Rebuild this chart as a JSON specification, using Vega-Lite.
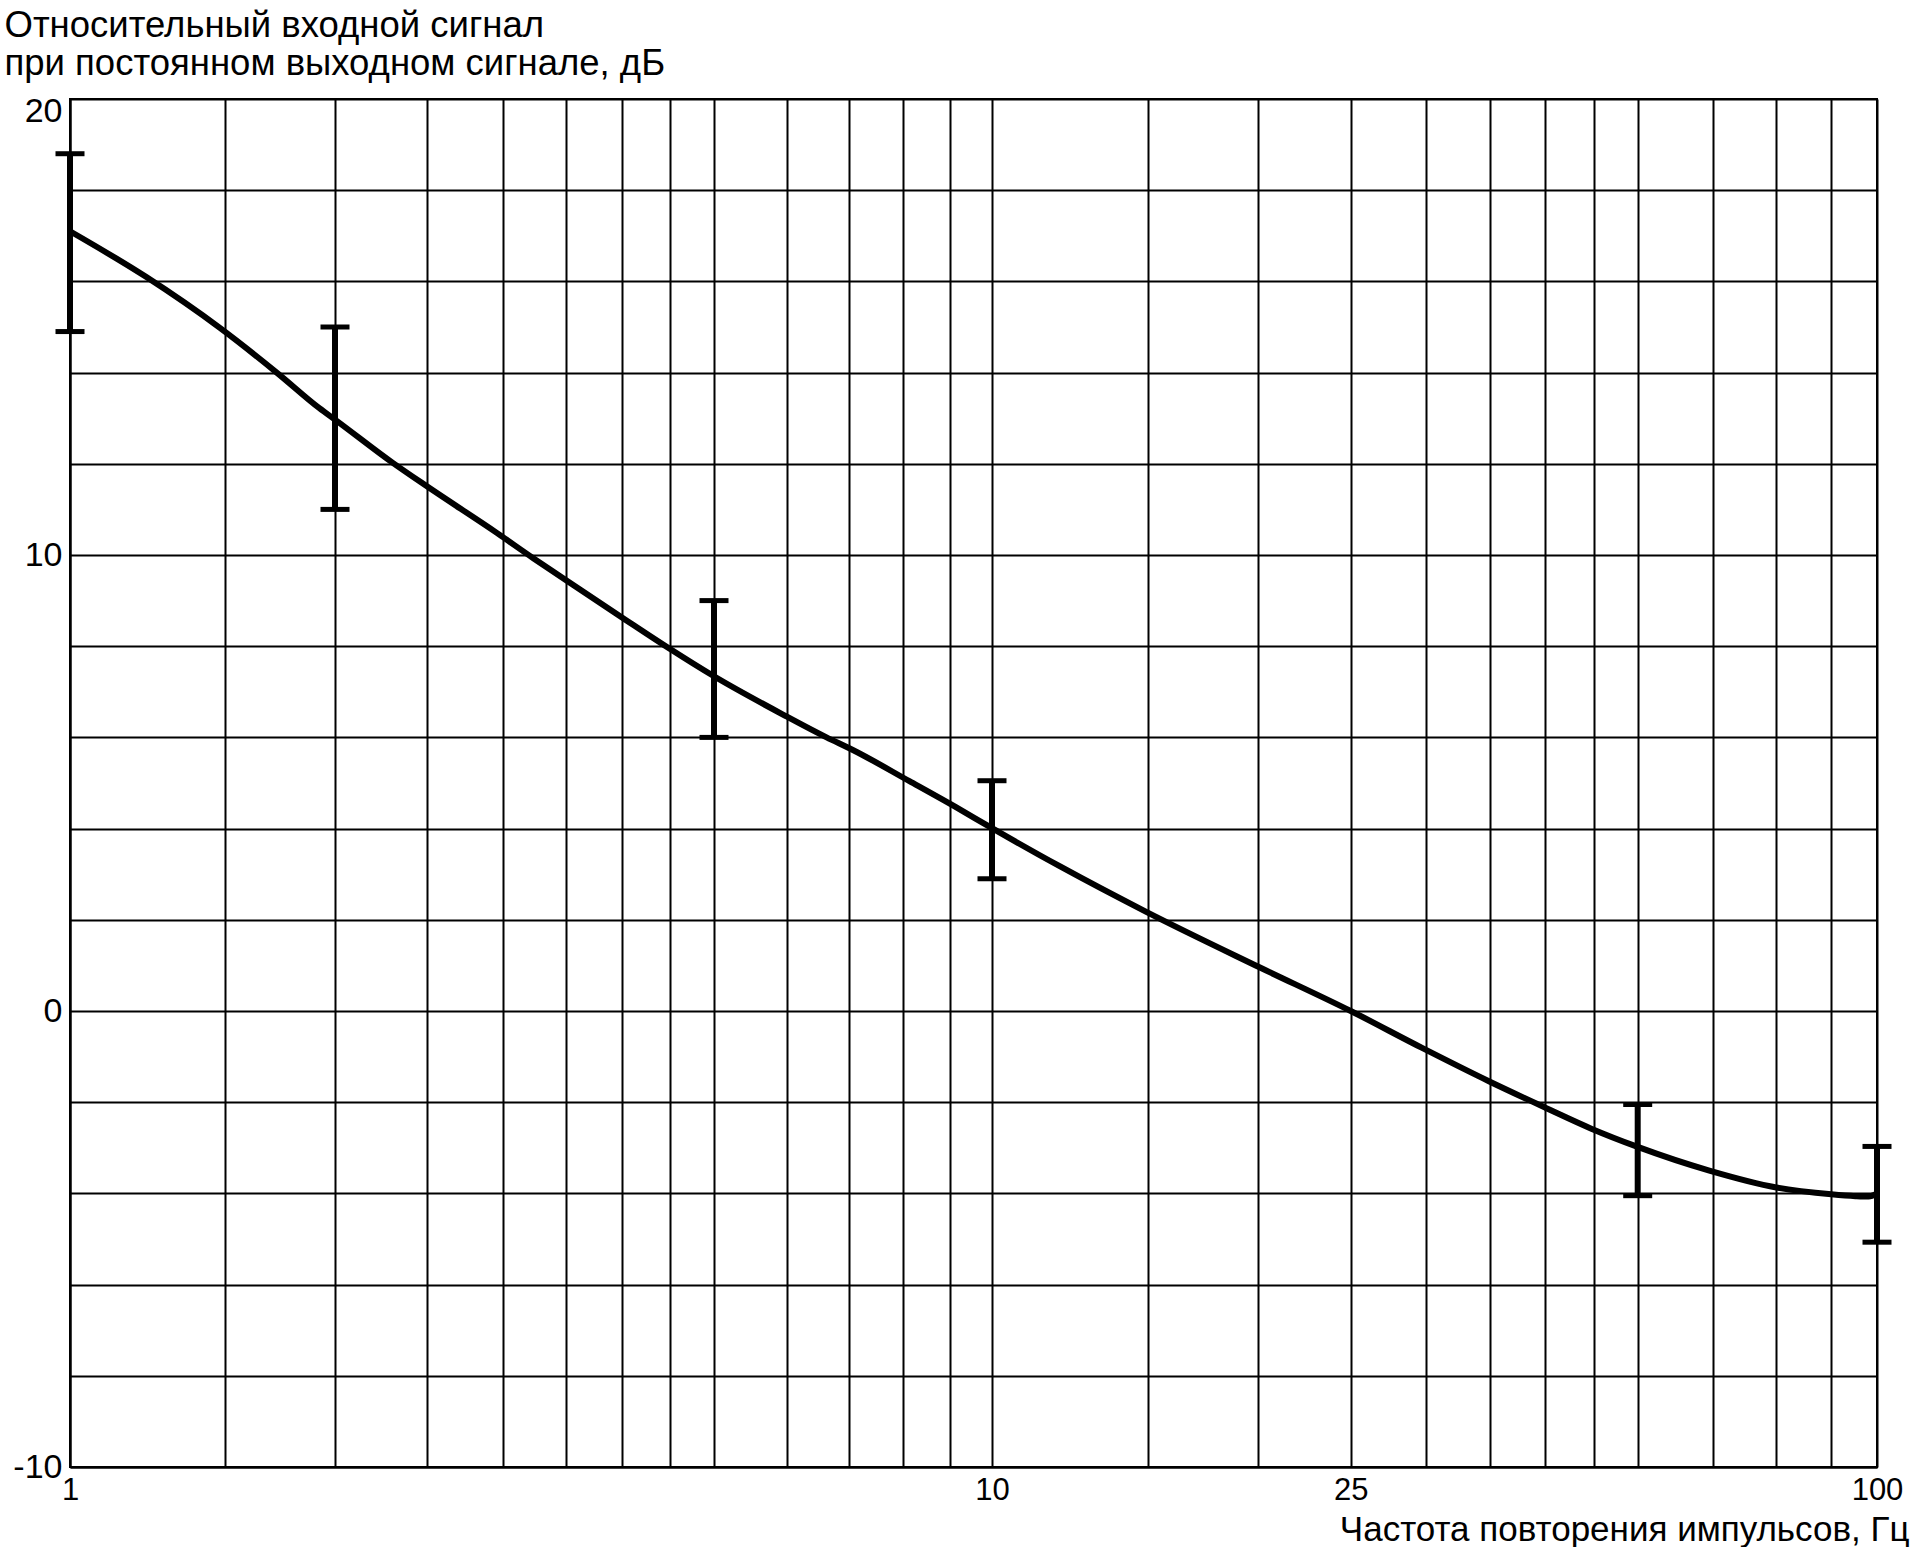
{
  "$schema": "https://vega.github.io/schema/vega-lite/v6.json",
  "width": 1807,
  "height": 1368,
  "autosize": {"type": "none"},
  "padding": {"left": 70, "top": 99, "right": 44, "bottom": 80},
  "background": "white",
  "config": {
    "view": {"stroke": "black", "strokeWidth": 2},
    "font": "Liberation Sans"
  },
  "datasets": {
    "curve": [
      {"f": 1, "db": 17.1}, {"f": 1.22, "db": 16.1}, {"f": 1.48, "db": 14.98}, {"f": 1.72, "db": 13.99},
      {"f": 1.92, "db": 13.22}, {"f": 2, "db": 12.97}, {"f": 2.3, "db": 12.02}, {"f": 2.5, "db": 11.5},
      {"f": 2.96, "db": 10.48}, {"f": 3.23, "db": 9.93}, {"f": 3.45, "db": 9.53}, {"f": 4.01, "db": 8.62},
      {"f": 4.48, "db": 7.96}, {"f": 5, "db": 7.34}, {"f": 5.99, "db": 6.46}, {"f": 6.62, "db": 6.0},
      {"f": 7.06, "db": 5.73}, {"f": 8.14, "db": 5.04}, {"f": 9.14, "db": 4.47}, {"f": 10, "db": 4.01},
      {"f": 11.94, "db": 3.17}, {"f": 14.92, "db": 2.18}, {"f": 20, "db": 0.97}, {"f": 25, "db": 0.0},
      {"f": 29.7, "db": -0.81}, {"f": 34.9, "db": -1.54}, {"f": 40, "db": -2.12}, {"f": 44.7, "db": -2.58},
      {"f": 50, "db": -2.98}, {"f": 59.5, "db": -3.5}, {"f": 70, "db": -3.87}, {"f": 80, "db": -4.02},
      {"f": 90, "db": -4.06}, {"f": 96, "db": -4.07}, {"f": 100, "db": -4.0}
    ],
    "bars": [
      {"f": 1, "lo": 14.9, "hi": 18.8},
      {"f": 2, "lo": 11, "hi": 15},
      {"f": 5, "lo": 6, "hi": 9},
      {"f": 10, "lo": 2.9, "hi": 5.05},
      {"f": 50, "lo": -4.05, "hi": -2.05},
      {"f": 100, "lo": -5.07, "hi": -2.97}
    ]
  },
  "layer": [
    {
      "data": {"name": "curve"},
      "mark": {"type": "line", "color": "black", "strokeWidth": 6, "interpolate": "monotone"},
      "encoding": {
        "x": {
          "field": "f", "type": "quantitative",
          "scale": {"type": "log", "domain": [1, 2, 5, 10, 20, 50, 80, 100], "range": [0, 265, 644, 922, 1188.4, 1567.7, 1761.3, 1807], "nice": false},
          "axis": {
            "values": [1, 1.5, 2, 2.5, 3, 3.5, 4, 4.5, 5, 6, 7, 8, 9, 10, 15, 20, 25, 30, 35, 40, 45, 50, 60, 70, 80, 100],
            "grid": true, "gridColor": "black", "gridWidth": 2, "gridOpacity": 1,
            "ticks": false, "domainColor": "black", "domainWidth": 2,
            "labelExpr": "datum.value == 1 || datum.value == 10 || datum.value == 25 || datum.value == 100 ? '' + datum.value : ''",
            "labelFontSize": 31, "labelColor": "black", "labelPadding": 8,
            "labelOverlap": false, "labelFlush": false, "labelBound": false,
            "title": "Частота повторения импульсов, Гц",
            "titleFontSize": 35, "titleFontWeight": "normal", "titleColor": "black",
            "titleAlign": "right", "titleX": 1839, "titleY": 73, "titleBaseline": "alphabetic"
          }
        },
        "y": {
          "field": "db", "type": "quantitative",
          "scale": {"domain": [-10, 20], "nice": false, "zero": false},
          "axis": {
            "values": [-10, -8, -6, -4, -2, 0, 2, 4, 6, 8, 10, 12, 14, 16, 18, 20],
            "grid": true, "gridColor": "black", "gridWidth": 2, "gridOpacity": 1,
            "ticks": false, "domainColor": "black", "domainWidth": 2,
            "labelExpr": "datum.value % 10 == 0 ? '' + datum.value : ''",
            "labelFontSize": 34, "labelColor": "black", "labelPadding": 8,
            "labelOverlap": false, "labelFlush": false, "labelBound": false,
            "labelBaseline": {"condition": {"test": "datum.value == 20", "value": "top"}, "value": "middle"},
            "labelOffset": {"condition": {"test": "datum.value == 20", "value": -5}, "value": 0},
            "title": ["Относительный входной сигнал", "при постоянном выходном сигнале, дБ"],
            "titleFontSize": 36.5, "titleFontWeight": "normal", "titleColor": "black",
            "titleAngle": 0, "titleAlign": "left", "titleX": -66, "titleY": -63,
            "titleBaseline": "alphabetic", "titleLineHeight": 38
          }
        }
      }
    },
    {
      "data": {"name": "bars"},
      "mark": {"type": "rule", "color": "black", "strokeWidth": 6},
      "encoding": {
        "x": {"field": "f", "type": "quantitative"},
        "y": {"field": "lo", "type": "quantitative"},
        "y2": {"field": "hi"}
      }
    },
    {
      "data": {"name": "bars"},
      "mark": {"type": "tick", "orient": "horizontal", "color": "black", "size": 29, "thickness": 5, "opacity": 1},
      "encoding": {
        "x": {"field": "f", "type": "quantitative"},
        "y": {"field": "lo", "type": "quantitative"}
      }
    },
    {
      "data": {"name": "bars"},
      "mark": {"type": "tick", "orient": "horizontal", "color": "black", "size": 29, "thickness": 5, "opacity": 1},
      "encoding": {
        "x": {"field": "f", "type": "quantitative"},
        "y": {"field": "hi", "type": "quantitative"}
      }
    }
  ]
}
